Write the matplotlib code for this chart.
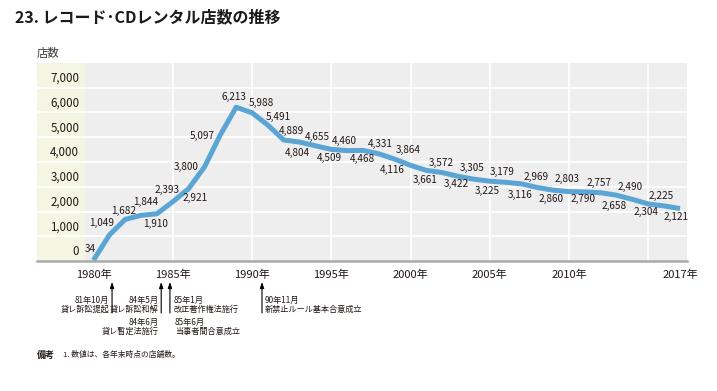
import numpy as np
import matplotlib
matplotlib.use("Agg")
import matplotlib.pyplot as plt

plt.rcParams['font.family'] = ['Noto Sans CJK JP', 'DejaVu Sans']

# データ
years = list(range(1980, 2018))
stores = [34, 1049, 1682, 1844, 1910, 2393, 2921, 3800, 5097, 6213,
          5988, 5491, 4889, 4804, 4655, 4509, 4460, 4468, 4331, 4116,
          3864, 3661, 3572, 3422, 3305, 3225, 3179, 3116, 2969, 2860,
          2803, 2790, 2757, 2658, 2490, 2304, 2225, 2121]
xtick_years = [1980, 1985, 1990, 1995, 2000, 2005, 2010, 2017]
ytick_values = [0, 1000, 2000, 3000, 4000, 5000, 6000, 7000]

# 出来事
event_dates = ["81年10月", "84年5月", "84年6月", "85年1月", "85年6月", "90年11月"]
event_texts = ["貸レ訴訟提起", "貸レ訴訟和解", "貸レ暫定法施行",
               "改正著作権法施行", "当事者間合意成立", "新禁止ルール基本合意成立"]

# ラベル位置 (px, 画像座標: 下が+)
label_off = [(-3, -11), (-8, -12), (-2, -8), (5, -13), (-1, 10), (-6, -12),
             (6, 9), (-18, 0), (-18, 1), (-2, -10), (9, -10), (10, -8),
             (8, -9), (-2, 11), (2, -9), (-2, 9), (-3, -10), (-1, 9),
             (1, -10), (-2, 11), (-2, -15), (-1, 10), (-1, -10), (-2, 8),
             (-2, -11), (-2, 10), (-3, -10), (-1, 11), (-1, -11), (-2, 9),
             (-2, -13), (-2, 7), (-2, -10), (-3, 11), (-2, -12), (-2, 8),
             (-3, -10), (-4, 8)]

W, H = 717, 391
fig = plt.figure(figsize=(W / 100, H / 100), dpi=100)
ax = fig.add_axes([37 / W, 1 - 261 / H, 650 / W, 198 / H])

x_left = 1976.435
x_right = 2017.44
ax.set_xlim(x_left, x_right)
ax.set_ylim(0, 8000)
ax.set_facecolor('#eeeeee')
ax.axvspan(x_left, 1979.46, color='#f4f6e3', zorder=0, lw=0)

for v in ytick_values[1:]:
    ax.axhline(v, color='white', lw=1.2, zorder=1)
for yr in range(1985, 2016, 5):
    ax.axvline(yr, color='white', lw=1.2, zorder=1)

ax.plot(years, stores, color='#5aa5d4', lw=3.6, solid_capstyle='butt',
        solid_joinstyle='round', zorder=3, clip_on=True)

for yr, v, (dx, dy) in zip(years, stores, label_off):
    ax.annotate(f"{v:,}", (yr, v), xytext=(dx, -dy), textcoords='offset pixels',
                ha='center', va='center', fontsize=7.2, color='#231815', zorder=4)

# 軸
for s in ['top', 'right', 'left']:
    ax.spines[s].set_visible(False)
ax.spines['bottom'].set_color('#aaaaaa')
ax.spines['bottom'].set_linewidth(1.8)
ax.spines['bottom'].set_zorder(5)

ax.set_xticks(xtick_years)
ax.set_xticklabels([f"{y}年" for y in xtick_years])
ax.tick_params(axis='x', length=0, pad=6, labelsize=8, labelcolor='#231815')
ax.set_yticks([])

ytrans = ax.get_yaxis_transform()
for v in ytick_values:
    ax.annotate(f"{v:,}", (0.065, v), xycoords=ytrans, xytext=(0, 3),
                textcoords='offset pixels', ha='right', va='bottom',
                fontsize=8.3, color='#231815')

# 出来事の矢印
xtrans = ax.get_xaxis_transform()
def fy(py):
    return (261 - py) / 198

arrow_x = [1981.17, 1984.27, 1984.82, 1990.63]
for xa in arrow_x:
    ax.annotate("", xy=(xa, fy(282)), xycoords=xtrans,
                xytext=(xa, fy(313)), textcoords=xtrans,
                arrowprops=dict(arrowstyle='-|>,head_length=0.35,head_width=0.12',
                                color='black', lw=0.8, shrinkA=0, shrinkB=0),
                annotation_clip=False)

ev_pos = [(arrow_x[0], -3, 300, 'right'), (arrow_x[1], -3, 300, 'right'),
          (arrow_x[1], -3, 322, 'right'), (arrow_x[2], 4, 300, 'left'),
          (arrow_x[2], 5, 322, 'left'), (arrow_x[3], 3, 300, 'left')]
for d, t, (xa, dx, py, ha) in zip(event_dates, event_texts, ev_pos):
    ax.annotate(d, (xa, fy(py)), xycoords=xtrans, xytext=(dx, 0),
                textcoords='offset pixels', ha=ha, va='center',
                fontsize=5.9, color='#231815', annotation_clip=False)
    ax.annotate(t, (xa, fy(py + 9)), xycoords=xtrans, xytext=(dx, 0),
                textcoords='offset pixels', ha=ha, va='center',
                fontsize=5.9, color='#231815', annotation_clip=False)

# タイトルなど
fig.text(15 / W, 1 - 17 / H, "23. レコード･CDレンタル店数の推移", ha='left', va='center',
         fontsize=11.5, fontweight='bold', color='#1a1a1a')
fig.text(37 / W, 1 - 53 / H, "店数", ha='left', va='center', fontsize=8.2, color='#333333')
fig.text(37 / W, 1 - 355 / H, "備考", ha='left', va='center', fontsize=6.5,
         fontweight='bold', color='#231815')
fig.text(63 / W, 1 - 355 / H, "1. 数値は、各年末時点の店舗数。", ha='left', va='center',
         fontsize=5.6, color='#231815')

fig.savefig("out.png", dpi=100)
